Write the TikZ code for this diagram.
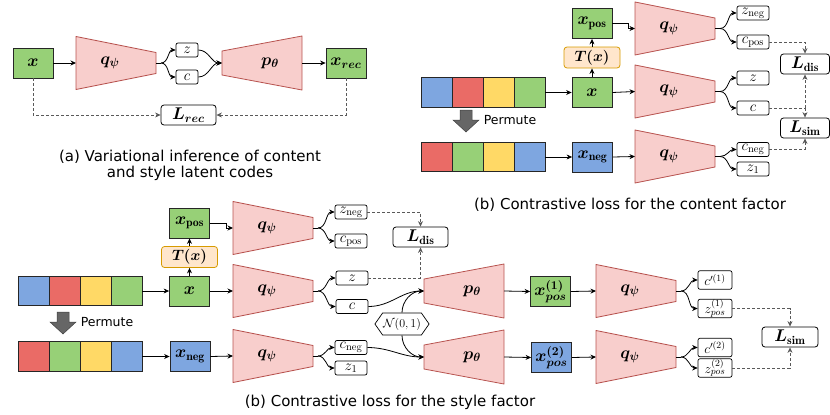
\RequirePackage{fix-cm}
\documentclass[tikz,border=0pt]{standalone}
\usepackage{amsmath}
\usepackage{fontspec}
\newfontfamily\capfont{DejaVu Sans}
\usetikzlibrary{arrows.meta,shapes.symbols}

\definecolor{gfill}{HTML}{97D077}
\definecolor{bfill}{HTML}{7EA6E0}
\definecolor{rfill}{HTML}{EA6B66}
\definecolor{yfill}{HTML}{FFD966}
\definecolor{tfill}{HTML}{F8CECC}
\definecolor{tline}{HTML}{B85450}
\definecolor{ofill}{HTML}{FFE6CC}
\definecolor{oline}{HTML}{D79B00}

\tikzset{
  arr/.style={-{Stealth[length=5.5pt,width=5pt]},line width=0.8pt},
  dsh/.style={densely dashed,line width=0.7pt,black!65},
  trap/.style={fill=tfill,draw=tline,line width=0.8pt},
  mlbl/.style={inner sep=0pt,font=\fontsize{17}{20}\selectfont},
  imgbox/.style={draw=black!85,line width=0.8pt,minimum width=40pt,minimum height=30pt,inner sep=0pt,font=\fontsize{17}{20}\selectfont},
  cell/.style={draw=black!85,line width=0.8pt,minimum width=31pt,minimum height=29.5pt,inner sep=0pt},
  code/.style={draw,rounded corners=2pt,fill=white,line width=0.7pt,minimum width=32pt,minimum height=14pt,inner sep=0.5pt,font=\fontsize{15}{17}\selectfont},
  code2/.style={code,minimum width=34pt,minimum height=18.5pt,inner sep=0.3pt,font=\fontsize{13.5}{15}\selectfont},
  loss/.style={draw,rounded corners=3pt,fill=white,line width=0.8pt,minimum width=49pt,minimum height=20pt,inner sep=1pt,font=\fontsize{17}{20}\selectfont},
  tbox/.style={draw=oline,fill=ofill,rounded corners=3pt,line width=0.8pt,minimum width=56pt,minimum height=21pt,inner sep=1pt,font=\fontsize{15}{18}\selectfont},
  hexa/.style={shape=signal,signal to=west and east,signal pointer angle=110,draw,fill=white,line width=0.7pt,minimum width=49pt,minimum height=22pt,inner sep=0.5pt,font=\fontsize{12}{14}\selectfont},
  perm/.style={fill=black!60,draw=black!75,line width=0.5pt},
  permlbl/.style={font=\capfont\fontsize{12.5}{14}\selectfont},
  captext/.style={align=center,font=\capfont\fontsize{15}{16}\selectfont}
}

% encoder: wide side left, narrow side right
\newcommand{\encoder}[3]{%
  \begin{scope}[shift={(#2)}]
    \draw[trap] (-40,26.5) -- (40,10.5) -- (40,-10.5) -- (-40,-26.5) -- cycle;
    \node[mlbl] (#1) at (-6,0) {#3};
    \draw[line width=0.8pt] (40,0) -- (45,0);
    \coordinate (#1-w) at (-40,0);
    \coordinate (#1-e) at (40,0);
    \coordinate (#1-s) at (45,0);
  \end{scope}}
% decoder: narrow side left, wide side right
\newcommand{\decoder}[3]{%
  \begin{scope}[shift={(#2)}]
    \draw[trap] (-40,12) -- (40,27) -- (40,-27) -- (-40,-12) -- cycle;
    \node[mlbl] (#1) at (8,0) {#3};
    \coordinate (#1-w) at (-40,0);
    \coordinate (#1-e) at (40,0);
  \end{scope}}

\begin{document}
\begin{tikzpicture}[x=1pt,y=1pt]
\useasboundingbox (0,0) rectangle (830,-415);

% (a) variational inference
\node[imgbox,fill=gfill] (xa) at (33,-63) {$\boldsymbol{x}$};
\encoder{qa}{116,-63}{$\boldsymbol{q_\psi}$}
\node[code,minimum width=22pt] (za) at (187,-50) {$z$};
\node[code,minimum width=22pt] (ca) at (187,-77) {$c$};
\decoder{pa}{262,-63}{$\boldsymbol{p_\theta}$}
\node[imgbox,fill=gfill] (xreca) at (346,-63) {$\boldsymbol{x_{rec}}$};
\node[loss,minimum width=55pt] (lreca) at (188.5,-115) {$\boldsymbol{L_{rec}}$};
\node[captext] (capa) at (190,-165) {(a) Variational inference of content\\and style latent codes};

\draw[arr] (xa.east) -- (qa-w);
\draw[arr] (za.east) to[out=0,in=180] (pa-w);
\draw[arr] (ca.east) to[out=0,in=180] (pa-w);
\draw[arr] (pa-e) -- (xreca.west);
\draw[dsh,arr] (xa.south) |- (lreca.west);
\draw[dsh,arr] (xreca.south) |- (lreca.east);

% (b) content factor
\foreach \c [count=\i] in {bfill,rfill,yfill,gfill}
  \node[cell,fill=\c] (sb\i) at ({405.5+31*\i},-92.5) {};
\foreach \c [count=\i] in {rfill,gfill,yfill,bfill}
  \node[cell,fill=\c] (nb\i) at ({405.5+31*\i},-157) {};
\node[imgbox,fill=gfill] (xb) at (592,-92.5) {$\boldsymbol{x}$};
\node[tbox] (tb) at (592,-57.5) {$\boldsymbol{T(x)}$};
\node[imgbox,fill=gfill] (xposb) at (592,-23.5) {$\boldsymbol{x}_{\mathbf{pos}}$};
\node[imgbox,fill=bfill] (xnegb) at (592.5,-157) {$\boldsymbol{x}_{\mathbf{neg}}$};
\encoder{qb1}{675,-28.5}{$\boldsymbol{q_\psi}$}
\encoder{qb2}{675,-91.5}{$\boldsymbol{q_\psi}$}
\encoder{qb3}{675,-156.5}{$\boldsymbol{q_\psi}$}
\node[code] (zneg) at (753,-13) {$z_{\mathrm{neg}}$};
\node[code] (cpos) at (753,-42) {$c_{\mathrm{pos}}$};
\node[code] (zb) at (753,-78) {$z$};
\node[code] (cb) at (753,-108) {$c$};
\node[code] (cneg) at (753,-149.5) {$c_{\mathrm{neg}}$};
\node[code] (zone) at (753,-169) {$z_1$};
\node[loss] (ldis) at (805,-64) {$\boldsymbol{L}_{\mathbf{dis}}$};
\node[loss] (lsim) at (805,-128) {$\boldsymbol{L}_{\mathbf{sim}}$};
\node[captext] (capb) at (630,-205) {(b) Contrastive loss for the content factor};

\draw[arr] (sb4.east) -- (xb.west);
\draw[arr] (xb.north) -- (tb.south);
\draw[arr] (tb.north) -- (xposb.south);
\draw[arr] (xposb.east) -- ++(16,0) |- (qb1-w);
\draw[arr] (xb.east) -- (qb2-w);
\draw[arr] (nb4.east) -- (xnegb.west);
\draw[arr] (xnegb.east) -- (qb3-w);
\coordinate (jb) at (ldis.south |- cb.east);
\draw[dsh,arr] (cpos.east) -| (ldis.north);
\draw[dsh] (cb.east) -- (jb);
\draw[dsh,arr] (jb) -- (ldis.south);
\draw[dsh,arr] (jb) -- (lsim.north);
\draw[dsh,arr] (cneg.east) -| (lsim.south);

% (b) style factor
\foreach \c [count=\i] in {bfill,rfill,yfill,gfill}
  \node[cell,fill=\c] (sc\i) at ({2.5+31*\i},-291) {};
\foreach \c [count=\i] in {rfill,gfill,yfill,bfill}
  \node[cell,fill=\c] (nc\i) at ({2.5+31*\i},-356.5) {};
\node[imgbox,fill=gfill] (xc) at (189.5,-291) {$\boldsymbol{x}$};
\node[tbox] (tc) at (189.5,-257) {$\boldsymbol{T(x)}$};
\node[imgbox,fill=gfill] (xposc) at (189.5,-223) {$\boldsymbol{x}_{\mathbf{pos}}$};
\node[imgbox,fill=bfill] (xnegc) at (190,-356.5) {$\boldsymbol{x}_{\mathbf{neg}}$};
\encoder{qc1}{273,-228}{$\boldsymbol{q_\psi}$}
\encoder{qc2}{273,-291}{$\boldsymbol{q_\psi}$}
\encoder{qc3}{273,-356}{$\boldsymbol{q_\psi}$}
\node[code] (znegc) at (351,-212) {$z_{\mathrm{neg}}$};
\node[code] (cposc) at (351,-241) {$c_{\mathrm{pos}}$};
\node[code] (zc) at (352,-278) {$z$};
\node[code] (cc) at (352,-306.5) {$c$};
\node[code] (cnegc) at (351,-347.5) {$c_{\mathrm{neg}}$};
\node[code] (zonec) at (351,-368) {$z_1$};
\node[loss,minimum width=55pt] (ldisc) at (420.5,-237) {$\boldsymbol{L}_{\mathbf{dis}}$};
\node[hexa] (nrm) at (402,-324) {$\mathcal{N}(0,1)$};
\decoder{pc1}{464,-291}{$\boldsymbol{p_\theta}$}
\decoder{pc2}{464,-357}{$\boldsymbol{p_\theta}$}
\node[imgbox,fill=gfill] (xp1) at (550.5,-291.5) {$\boldsymbol{x^{(1)}_{pos}}$};
\node[imgbox,fill=bfill] (xp2) at (551.5,-357.5) {$\boldsymbol{x^{(2)}_{pos}}$};
\encoder{qd1}{636,-291}{$\boldsymbol{q_\psi}$}
\encoder{qd2}{636,-357}{$\boldsymbol{q_\psi}$}
\node[code2] (cpa) at (715,-280) {$c'^{(1)}$};
\node[code2] (zpa) at (715,-308.5) {$z^{(1)}_{pos}$};
\node[code2] (cpb) at (715,-347.5) {$c'^{(2)}$};
\node[code2] (zpb) at (715,-368) {$z^{(2)}_{pos}$};
\node[loss,minimum width=56pt] (lsimc) at (790,-337) {$\boldsymbol{L}_{\mathbf{sim}}$};
\node[captext] (capc) at (390,-402) {(b) Contrastive loss for the style factor};

\draw[arr] (sc4.east) -- (xc.west);
\draw[arr] (xc.north) -- (tc.south);
\draw[arr] (tc.north) -- (xposc.south);
\draw[arr] (xposc.east) -- ++(16,0) |- (qc1-w);
\draw[arr] (xc.east) -- (qc2-w);
\draw[arr] (nc4.east) -- (xnegc.west);
\draw[arr] (xnegc.east) -- (qc3-w);
\draw[dsh,arr] (znegc.east) -| (ldisc.north);
\draw[dsh,arr] (zc.east) -| (ldisc.south);
\draw[arr] (cc.east) to[out=0,in=180] (pc1-w);
\draw[arr] (nrm.north) to[out=90,in=180] (pc1-w);
\draw[arr] (cnegc.east) to[out=0,in=180] (pc2-w);
\draw[arr] (nrm.south) to[out=-90,in=180] (pc2-w);
\draw[arr] (pc1-e) -- (xp1.west);
\draw[arr] (xp1.east) -- (qd1-w);
\draw[arr] (pc2-e) -- (xp2.west);
\draw[arr] (xp2.east) -- (qd2-w);
\draw[dsh,arr] (zpa.east) -| (lsimc.north);
\draw[dsh,arr] (zpb.east) -| (lsimc.south);

% encoder outputs
\foreach \q/\u/\d in {qa/za/ca,qb1/zneg/cpos,qb2/zb/cb,qb3/cneg/zone,qc1/znegc/cposc,qc2/zc/cc,qc3/cnegc/zonec,qd1/cpa/zpa,qd2/cpb/zpb} {
  \draw[arr] (\q-s) to[out=0,in=180] (\u.west);
  \draw[arr] (\q-s) to[out=0,in=180] (\d.west);
}

% permute arrows
\foreach \px/\py in {466/110,63/312} {
  \draw[perm] (\px-6,-\py) -- (\px+6,-\py) -- (\px+6,-\py-10) -- (\px+13,-\py-10)
    -- (\px,-\py-22) -- (\px-13,-\py-10) -- (\px-6,-\py-10) -- cycle;
  \node[permlbl] (perm\px) at ({\px+44},{-\py-10}) {Permute};
}
\end{tikzpicture}
\end{document}
